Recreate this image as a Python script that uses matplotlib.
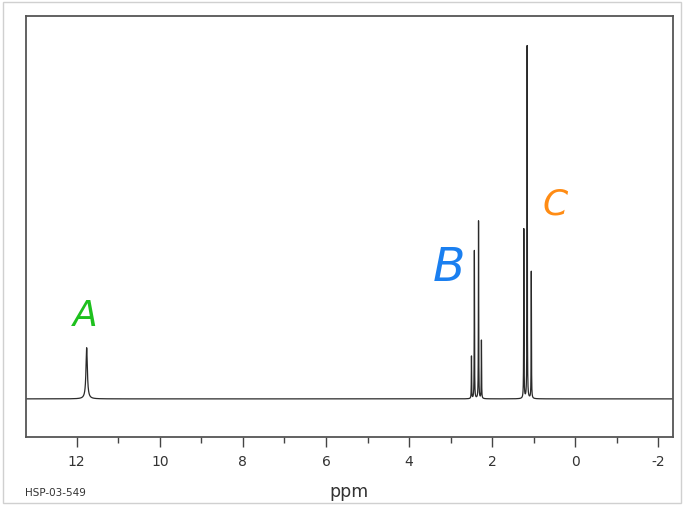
import matplotlib.pyplot as plt
import numpy as np
from matplotlib.patches import Rectangle
from matplotlib.ticker import FixedLocator

# peak list (ppm, relative height, half width in ppm)
peak_ppm = [11.76, 2.50, 2.43, 2.33, 2.26, 1.24, 1.16, 1.06]
peak_height = [0.145, 0.12, 0.42, 0.505, 0.165, 0.48, 1.00, 0.36]
peak_hwhm = [0.02, 0.004, 0.004, 0.004, 0.004, 0.004, 0.004, 0.004]

labels = ['A', 'B', 'C']
label_ppm = [11.8, 3.05, 0.48]
label_y = [0.235, 0.37, 0.55]
label_colors = ['#1ec01e', '#1a7ff0', '#ff8c14']
label_sizes = [26, 34, 26]

xticks = [12, 10, 8, 6, 4, 2, 0, -2]
minor_ticks = [11, 9, 7, 5, 3, 1, -1]

plt.rcParams['axes.unicode_minus'] = False

ppm = np.linspace(13.3, -2.4, 32000)
intensity = np.zeros_like(ppm)
for p, h, w in zip(peak_ppm, peak_height, peak_hwhm):
    intensity += h * w**2 / ((ppm - p)**2 + w**2)

fig = plt.figure(figsize=(6.83, 5.05), dpi=100)
fig.patches.append(Rectangle((3 / 683, 2 / 505), 678 / 683, 501 / 505,
                             transform=fig.transFigure, fill=False,
                             edgecolor='#d0d0d0', linewidth=1))

ax = fig.add_axes([26 / 683, 1 - 437 / 505, 647 / 683, 421 / 505])
ax.plot(ppm, intensity, color='#2a2a2a', linewidth=0.9)

for lab, x, y, c, s in zip(labels, label_ppm, label_y, label_colors, label_sizes):
    ax.text(x, y, lab, color=c, fontsize=s, style='italic', fontweight=300,
            ha='center', va='center')

ax.set_xlim(13.22, -2.35)
ax.set_ylim(-0.108, 1.085)
ax.set_xticks(xticks)
ax.set_xticklabels([str(t) for t in xticks])
ax.xaxis.set_minor_locator(FixedLocator(minor_ticks))
ax.set_yticks([])
ax.tick_params(axis='x', which='major', direction='out', length=7,
               width=1, color='#444444', labelsize=10, labelcolor='#333333', pad=6)
ax.tick_params(axis='x', which='minor', direction='out', length=4,
               width=1, color='#444444')
for sp in ax.spines.values():
    sp.set_color('#555555')
    sp.set_linewidth(1.3)

fig.text(349 / 683, 1 - 492 / 505, 'ppm', ha='center', va='center',
         fontsize=12.5, color='#333333')
fig.text(25 / 683, 1 - 493 / 505, 'HSP-03-549', ha='left', va='center',
         fontsize=7.5, color='#333333')

fig.savefig('out.png', dpi=100)
